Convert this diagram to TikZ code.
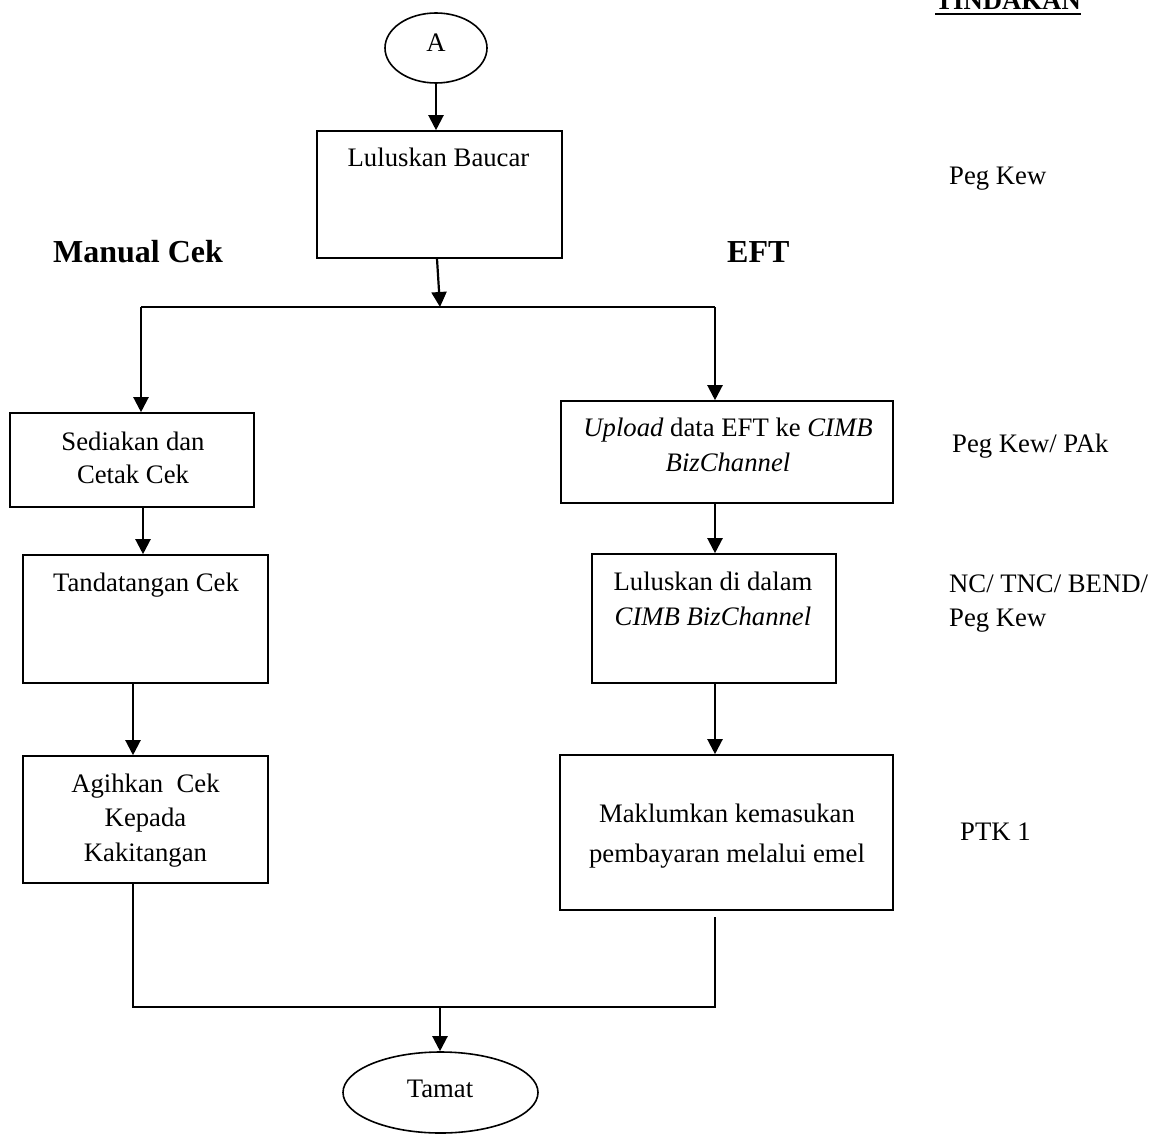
\documentclass[tikz,border=0pt]{standalone}
\usepackage{fontspec}
\setmainfont{Liberation Serif}
\usetikzlibrary{arrows.meta,shapes.geometric,calc}
\begin{document}
\begin{tikzpicture}[x=1pt,y=-1pt,
  box/.style={draw,line width=1.6pt,rectangle,inner sep=0},
  oval/.style={draw,line width=1.6pt,ellipse,inner sep=0},
  txt/.style={inner sep=0,anchor=base,align=center,font=\fontsize{26.7}{34.5}\selectfont},
  lbl/.style={inner sep=0,anchor=base west,align=left,font=\fontsize{26.7}{34}\selectfont},
  hd/.style={inner sep=0,anchor=base west,font=\fontsize{32}{38}\selectfont\bfseries},
  arr/.style={-{Triangle[length=15pt,width=15pt]},line width=2.2pt},
  ln/.style={line width=1.5pt}]
\useasboundingbox (0,0) rectangle (1161,1134);

% header
\node[inner sep=0,anchor=base east,font=\fontsize{26.7}{32}\selectfont\bfseries] (tind) at (1081,10) {TINDAKAN};
\draw[line width=2pt] ([yshift=-4]tind.base west) -- ([yshift=-4]tind.base east);

% start
\node[oval,minimum width=102,minimum height=70] (A) at (436,48) {};
\node[txt] (tA) at (436,52) {A};

% Luluskan Baucar
\node[box,minimum width=245,minimum height=127] (b1) at (439.5,194.5) {};
\node[txt] (tb1) at (438.5,167) {Luluskan Baucar};

% headings
\node[hd] (hm) at (53,262) {Manual Cek};
\node[hd] (he) at (727,262) {EFT};

% left column
\node[box,minimum width=244,minimum height=94] (s1) at (132,460) {};
\node[txt] (ts1) at (133,483) {Sediakan dan\\[-1.5pt]Cetak Cek};
\node[box,minimum width=245,minimum height=128] (s2) at (145.5,619) {};
\node[txt] (ts2) at (146,591) {Tandatangan Cek};
\node[box,minimum width=245,minimum height=127] (s3) at (145.5,819.5) {};
\node[txt] (ts3) at (145.5,861) {Agihkan\ \ Cek\\Kepada\\Kakitangan};

% right column
\node[box,minimum width=332,minimum height=102] (e1) at (727,452) {};
\node[txt] (te1) at (728,471) {\textit{Upload} data EFT ke \textit{CIMB}\\\textit{BizChannel}};
\node[box,minimum width=244,minimum height=129] (e2) at (714,618.5) {};
\node[txt] (te2) at (713,625) {Luluskan di dalam\\\textit{CIMB BizChannel}};
\node[box,minimum width=333,minimum height=155] (e3) at (726.5,832.5) {};
\node[txt] (te3) at (727,862) {Maklumkan kemasukan\\[5.5pt]pembayaran melalui emel};

% end
\node[oval,minimum width=195,minimum height=81] (T) at (440.5,1092.5) {};
\node[txt] (tT) at (440,1097) {Tamat};

% action labels
\node[lbl] (l1) at (949,185) {Peg Kew};
\node[lbl] (l2) at (952,452) {Peg Kew/ PAk};
\node[lbl] (l3) at (949,626) {NC/ TNC/ BEND/\\Peg Kew};
\node[lbl] (l4) at (960,840) {PTK 1};

% connectors
\coordinate (j) at (440,307);
\coordinate (jl) at (141,307);
\coordinate (jr) at (715,307);
\draw[arr] (A.south) -- (A.south |- b1.north);
\draw[arr] ([xshift=-2.5]b1.south) -- (j);
\draw[line width=2.2pt] (jl) -- (jr);
\draw[arr] (jl) -- (jl |- s1.north);
\draw[arr] (jr) -- (jr |- e1.north);
\draw[arr] ([xshift=11]s1.south) -- ([xshift=11]s1.south |- s2.north);
\draw[arr] ([xshift=-12.5]s2.south) -- ([xshift=-12.5]s2.south |- s3.north);
\draw[arr] ([xshift=-12]e1.south) -- ([xshift=-12]e1.south |- e2.north);
\draw[arr] ([xshift=1]e2.south) -- ([xshift=1]e2.south |- e3.north);

\coordinate (bl) at (133,1007);
\coordinate (br) at (715,1007);
\coordinate (rt) at (715,917);
\coordinate (jb) at (440,1007);
\draw[ln] ([xshift=-12.5]s3.south) -- (bl) -- (br) -- (rt);
\draw[arr] (jb) -- (jb |- T.north);
\end{tikzpicture}
\end{document}
